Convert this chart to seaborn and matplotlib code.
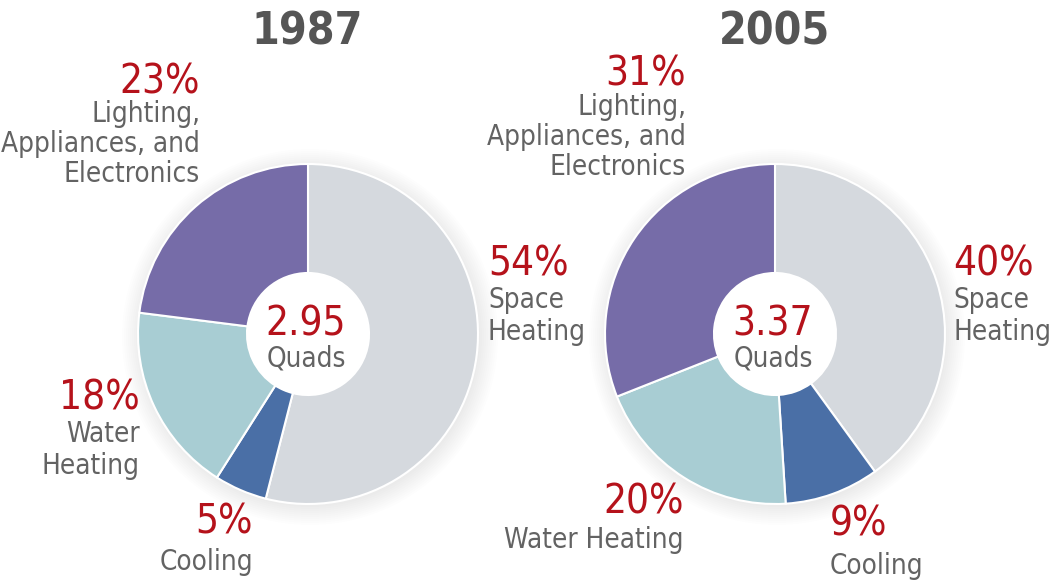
import matplotlib.pyplot as plt
import seaborn as sns
from matplotlib.patches import Circle

# data
categories = ['Space Heating', 'Cooling', 'Water Heating', 'Lighting, Appliances, and Electronics']
shares_1987 = [54, 5, 18, 23]
shares_2005 = [40, 9, 20, 31]
years = ['1987', '2005']
totals = ['2.95', '3.37']

slice_colors = ['#d5d9de', '#4a6fa6', '#a8cdd3', '#766ca8']
red = '#b5121b'
grey = '#636363'

sns.set_theme(style='white')
plt.rcParams['font.family'] = ['DejaVu Sans']
plt.rcParams['font.stretch'] = 'condensed'

fig = plt.figure(figsize=(10.51, 5.82), dpi=100)
ax = fig.add_axes([0, 0, 1, 1])

H = 582
R = 170
hole = 61
centers = [(308, H - 334), (775, H - 334)]

for (cx, cy), shares, year, total in zip(centers, [shares_1987, shares_2005], years, totals):
    # soft shadow around each pie
    for i in range(10):
        ax.add_patch(Circle((cx + 2, cy - 3), R + 18 - i * 2, color='#000000', alpha=0.009, lw=0, zorder=0.5))
    ax.add_patch(Circle((cx, cy), R, color='white', lw=0, zorder=0.8))
    ax.pie(shares, colors=slice_colors, startangle=90, counterclock=False,
           center=(cx, cy), radius=R, frame=True,
           wedgeprops=dict(width=R - hole, edgecolor='white', linewidth=1.5))
    ax.text(cx - 1, H - 32, year, ha='center', va='center', fontsize=32, fontweight='bold', color='#555555')
    ax.text(cx - 2, H - 324, total, ha='center', va='center', fontsize=29, color=red)
    ax.text(cx - 2, H - 358, 'Quads', ha='center', va='center', fontsize=20, color=grey)

ax.set_xlim(0, 1051)
ax.set_ylim(0, 582)
ax.set_aspect('equal')
ax.axis('off')


def label(x, y, pct, lines, ha, step=32, gap=36):
    ax.text(x, H - y, f'{pct}%', ha=ha, va='center', fontsize=29, color=red)
    for i, line in enumerate(lines):
        ax.text(x, H - (y + gap + i * step), line, ha=ha, va='center', fontsize=20, color=grey)


# 1987 labels
label(200, 82, shares_1987[3], ['Lighting,', 'Appliances, and', 'Electronics'], 'right', step=30, gap=32)
label(488, 264, shares_1987[0], ['Space', 'Heating'], 'left')
label(140, 398, shares_1987[2], ['Water', 'Heating'], 'right')
label(253, 522, shares_1987[1], ['Cooling'], 'right', gap=40)

# 2005 labels
label(686, 75, shares_2005[3], ['Lighting,', 'Appliances, and', 'Electronics'], 'right', step=30, gap=32)
label(953, 264, shares_2005[0], ['Space', 'Heating'], 'left')
label(684, 503, shares_2005[2], ['Water Heating'], 'right', gap=37)
label(830, 524, shares_2005[1], ['Cooling'], 'left', gap=42)

fig.savefig('out.png', dpi=100, facecolor='white')
